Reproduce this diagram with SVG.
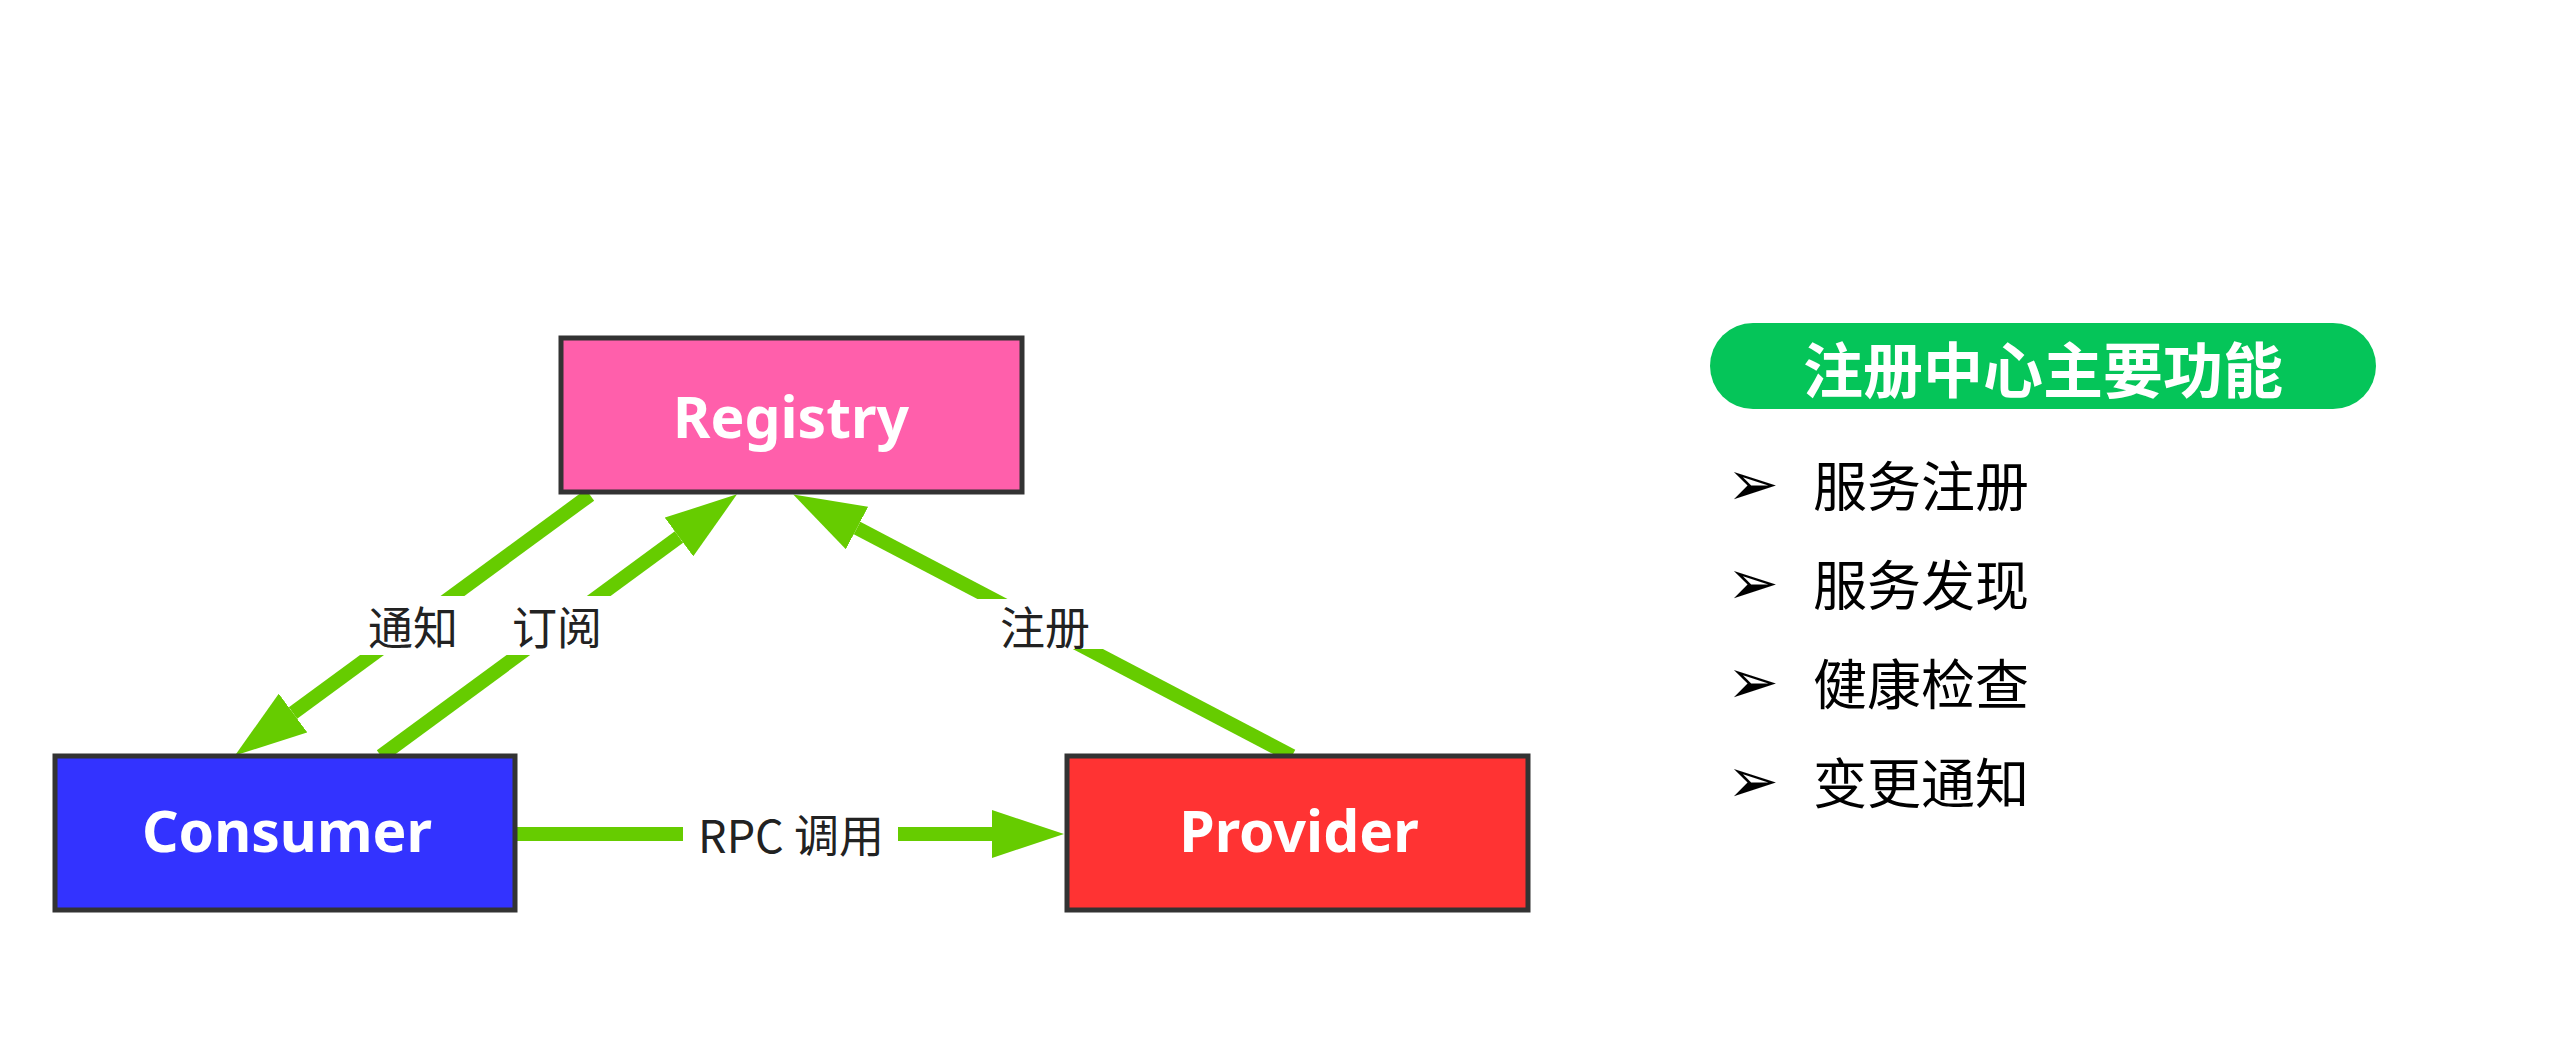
<svg xmlns="http://www.w3.org/2000/svg" width="2569" height="1039" viewBox="0 0 2569 1039">
  <style>
    .box { stroke: #333333; stroke-width: 5; }
    .ntext { font-family: "Noto Sans", "Open Sans", "Liberation Sans", sans-serif; font-weight: 700; font-size: 57px; fill: #ffffff; text-anchor: middle; }
    .edge { stroke: #66CC00; stroke-width: 14; fill: none; }
    .lblbg { fill: #ffffff; }
    .lbl { font-family: "Noto Sans CJK SC", "Noto Sans", sans-serif; font-size: 45px; fill: #222222; text-anchor: middle; dominant-baseline: central; }
    .title { font-family: "Noto Sans CJK SC", sans-serif; font-weight: 700; font-size: 60px; fill: #ffffff; text-anchor: middle; dominant-baseline: central; }
    .item { font-family: "Noto Sans CJK SC", sans-serif; font-size: 54px; fill: #000000; dominant-baseline: central; }
    .bullet { font-family: "DejaVu Sans", sans-serif; font-size: 62px; fill: #000000; text-anchor: middle; dominant-baseline: central; }
  </style>
  <defs>
    <marker id="arrow" markerUnits="userSpaceOnUse" markerWidth="72" markerHeight="48" refX="0" refY="24" orient="auto">
      <path d="M0,0 L72,24 L0,48 Z" fill="#66CC00"/>
    </marker>
  </defs>
  <rect width="2569" height="1039" fill="#ffffff"/>

  <g id="connectors">
    <!-- 通知: Registry -> Consumer -->
    <line class="edge" x1="590" y1="495" x2="293" y2="713" marker-end="url(#arrow)"/>
    <!-- 订阅: Consumer -> Registry -->
    <line class="edge" x1="381" y1="756" x2="679" y2="537" marker-end="url(#arrow)"/>
    <!-- 注册: Provider -> Registry -->
    <line class="edge" x1="1292" y1="756" x2="857" y2="528" marker-end="url(#arrow)"/>
    <!-- RPC 调用: Consumer -> Provider -->
    <line class="edge" x1="515" y1="834" x2="992" y2="834" marker-end="url(#arrow)"/>

    <rect class="lblbg" x="350" y="596" width="125" height="59"/>
    <text class="lbl" x="413" y="625">通知</text>
    <rect class="lblbg" x="495" y="596" width="125" height="59"/>
    <text class="lbl" x="557" y="625">订阅</text>
    <rect class="lblbg" x="970" y="599" width="150" height="50"/>
    <text class="lbl" x="1045" y="625">注册</text>
    <rect class="lblbg" x="683" y="810" width="215" height="48"/>
    <text class="lbl" x="791" y="833">RPC 调用</text>
  </g>

  <g id="node-registry">
    <rect class="box" x="561" y="338" width="461" height="154" fill="#FF5FAB"/>
    <text class="ntext" x="791" y="438">Registry</text>
  </g>
  <g id="node-consumer">
    <rect class="box" x="55" y="756" width="460" height="154" fill="#3333FF"/>
    <text class="ntext" x="287" y="852">Consumer</text>
  </g>
  <g id="node-provider">
    <rect class="box" x="1067" y="756" width="461" height="154" fill="#FF3333"/>
    <text class="ntext" x="1299" y="852">Provider</text>
  </g>

  <g id="features">
    <rect x="1710" y="323" width="666" height="86" rx="43" ry="43" fill="#05C559"/>
    <text class="title" x="2043" y="366">注册中心主要功能</text>
    <text class="bullet" x="1753" y="483">➢</text>
    <text class="item" x="1813" y="483">服务注册</text>
    <text class="bullet" x="1753" y="582">➢</text>
    <text class="item" x="1813" y="582">服务发现</text>
    <text class="bullet" x="1753" y="681">➢</text>
    <text class="item" x="1813" y="681">健康检查</text>
    <text class="bullet" x="1753" y="780">➢</text>
    <text class="item" x="1813" y="780">变更通知</text>
  </g>
</svg>
